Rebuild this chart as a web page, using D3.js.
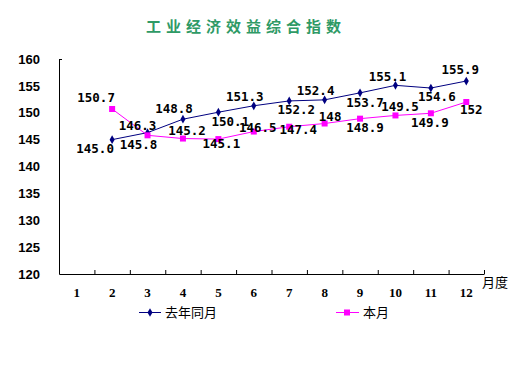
<!DOCTYPE html>
<html>
<head>
<meta charset="utf-8">
<script src="https://cdn.jsdelivr.net/npm/d3@7"></script>
<style>
  body { margin: 0; background: #fff; }
  svg { display: block; }
</style>
</head>
<body>
<div id="chart"></div>
<script>
// chart data
var months = [1, 2, 3, 4, 5, 6, 7, 8, 9, 10, 11, 12];
var lastYearMonths = [2, 3, 4, 5, 6, 7, 8, 9, 10, 11, 12];
var lastYear = [145.0, 146.3, 148.8, 150.1, 151.3, 152.2, 152.4, 153.7, 155.1, 154.6, 155.9];
var lastYearText = ["145.0", "146.3", "148.8", "150.1", "151.3", "152.2", "152.4", "153.7", "155.1", "154.6", "155.9"];
var thisMonthMonths = [2, 3, 4, 5, 6, 7, 8, 9, 10, 11, 12];
var thisMonth = [150.7, 145.8, 145.2, 145.1, 146.5, 147.4, 148, 148.9, 149.5, 149.9, 152];
var yTicks = [120, 125, 130, 135, 140, 145, 150, 155, 160];

// label nudges (px) so the numbers sit like the original
var lastYearDx = [-17, -10, -9, 12, -9, 7, -9, 5, -8, 6, -6];
var lastYearDy = [9, -7, -11, 9, -9, 9, -9, 9.5, -9, 9, -11.5];
var thisMonthDx = [-16, -9, 4, 3, 4, 9, 5.5, 5, 4.5, -1, 5];
var thisMonthDy = [-11, 9, -8, 5, -3.5, 3, -7, 8.5, -8.5, 9, 8];

var svgWidth = 514;
var svgHeight = 384;
var plot = { left: 59, right: 484, top: 59, bottom: 274 };

var svg = d3.select("#chart")
  .append("svg")
  .attr("width", svgWidth)
  .attr("height", svgHeight);

// title
svg.append("text")
  .attr("x", 146)
  .attr("y", 27)
  .attr("dy", "0.35em")
  .attr("fill", "#2f9a66")
  .attr("font-family", "'Noto Sans CJK SC', sans-serif")
  .attr("font-weight", "bold")
  .attr("font-size", 15)
  .attr("letter-spacing", 5)
  .text("工业经济效益综合指数");

var xBand = d3.scaleBand()
  .domain(months)
  .range([plot.left, plot.right])
  .padding(0);

var xEdge = d3.scaleLinear()
  .domain([0, 12])
  .range([plot.left, plot.right]);

var yScale = d3.scaleLinear()
  .domain([120, 160])
  .range([plot.bottom, plot.top]);

function xPos(m) {
  return xBand(m) + xBand.bandwidth() / 2;
}

// y axis
var yAxis = d3.axisLeft(yScale)
  .tickValues(yTicks)
  .tickSize(0)
  .tickPadding(19);

var gy = svg.append("g")
  .attr("transform", "translate(" + plot.left + ",0)")
  .call(yAxis);
gy.select(".domain").attr("stroke", "#000");
gy.selectAll("text")
  .attr("font-family", "'Liberation Sans', Arial, sans-serif")
  .attr("font-weight", "bold")
  .attr("font-size", 13)
  .attr("fill", "#000");

// little tick at the top of the y axis
svg.append("line")
  .attr("x1", plot.left)
  .attr("x2", plot.left + 3)
  .attr("y1", yScale(160) + 0.5)
  .attr("y2", yScale(160) + 0.5)
  .attr("stroke", "#000");

// x axis: ticks on the band edges, pointing up
var xAxis = d3.axisBottom(xEdge)
  .tickValues(d3.range(0, 13))
  .tickSize(-4)
  .tickSizeOuter(0)
  .tickFormat("");

svg.append("g")
  .attr("transform", "translate(0," + plot.bottom + ")")
  .call(xAxis)
  .selectAll("line, path")
  .attr("stroke", "#000");

svg.append("g")
  .selectAll("text")
  .data(months)
  .enter()
  .append("text")
  .attr("x", function(d) { return xPos(d); })
  .attr("y", 292)
  .attr("dy", "0.35em")
  .attr("text-anchor", "middle")
  .attr("font-family", "'Liberation Serif', serif")
  .attr("font-weight", "bold")
  .attr("font-size", 13)
  .text(function(d) { return d; });

svg.append("text")
  .attr("x", plot.right - 2)
  .attr("y", 282)
  .attr("dy", "0.35em")
  .attr("font-family", "'Noto Sans CJK SC', sans-serif")
  .attr("font-size", 13)
  .text("月度");

// lines
var line = d3.line()
  .x(function(d) { return xPos(d[0]); })
  .y(function(d) { return yScale(d[1]); });

var lyData = d3.zip(lastYearMonths, lastYear);
var tmData = d3.zip(thisMonthMonths, thisMonth);

svg.append("path")
  .datum(tmData)
  .attr("d", line)
  .attr("fill", "none")
  .attr("stroke", "#ff00ff")
  .attr("stroke-width", 1);

svg.append("path")
  .datum(lyData)
  .attr("d", line)
  .attr("fill", "none")
  .attr("stroke", "#000080")
  .attr("stroke-width", 1);

var diamond = d3.symbol().type(d3.symbolDiamond).size(22);

svg.append("g")
  .selectAll("path")
  .data(lyData)
  .enter()
  .append("path")
  .attr("d", diamond)
  .attr("transform", function(d) {
    return "translate(" + xPos(d[0]) + "," + yScale(d[1]) + ")";
  })
  .attr("fill", "#000080");

svg.append("g")
  .selectAll("rect")
  .data(tmData)
  .enter()
  .append("rect")
  .attr("x", function(d) { return xPos(d[0]) - 3; })
  .attr("y", function(d) { return yScale(d[1]) - 3; })
  .attr("width", 6)
  .attr("height", 6)
  .attr("fill", "#ff00ff");

// data labels
var labelFont = "'DejaVu Sans Mono', 'Liberation Mono', monospace";

svg.append("g")
  .selectAll("text")
  .data(lyData)
  .enter()
  .append("text")
  .attr("x", function(d, i) { return xPos(d[0]) + lastYearDx[i]; })
  .attr("y", function(d, i) { return yScale(d[1]) + lastYearDy[i]; })
  .attr("dy", "0.35em")
  .attr("text-anchor", "middle")
  .attr("font-family", labelFont)
  .attr("font-weight", "bold")
  .attr("font-size", 12.5)
  .text(function(d, i) { return lastYearText[i]; });

svg.append("g")
  .selectAll("text")
  .data(tmData)
  .enter()
  .append("text")
  .attr("x", function(d, i) { return xPos(d[0]) + thisMonthDx[i]; })
  .attr("y", function(d, i) { return yScale(d[1]) + thisMonthDy[i]; })
  .attr("dy", "0.35em")
  .attr("text-anchor", "middle")
  .attr("font-family", labelFont)
  .attr("font-weight", "bold")
  .attr("font-size", 12.5)
  .text(function(d) { return d[1]; });

// legend
var legend = svg.append("g");

legend.append("line")
  .attr("x1", 139).attr("x2", 161)
  .attr("y1", 312.5).attr("y2", 312.5)
  .attr("stroke", "#000080");
legend.append("path")
  .attr("d", diamond)
  .attr("transform", "translate(150,312.5)")
  .attr("fill", "#000080");
legend.append("text")
  .attr("x", 165)
  .attr("y", 312)
  .attr("dy", "0.35em")
  .attr("font-family", "'Noto Sans CJK SC', sans-serif")
  .attr("font-size", 13)
  .text("去年同月");

legend.append("line")
  .attr("x1", 336).attr("x2", 359)
  .attr("y1", 312.5).attr("y2", 312.5)
  .attr("stroke", "#ff00ff");
legend.append("rect")
  .attr("x", 344).attr("y", 309.5)
  .attr("width", 6).attr("height", 6)
  .attr("fill", "#ff00ff");
legend.append("text")
  .attr("x", 363)
  .attr("y", 312)
  .attr("dy", "0.35em")
  .attr("font-family", "'Noto Sans CJK SC', sans-serif")
  .attr("font-size", 13)
  .text("本月");
</script>
</body>
</html>
